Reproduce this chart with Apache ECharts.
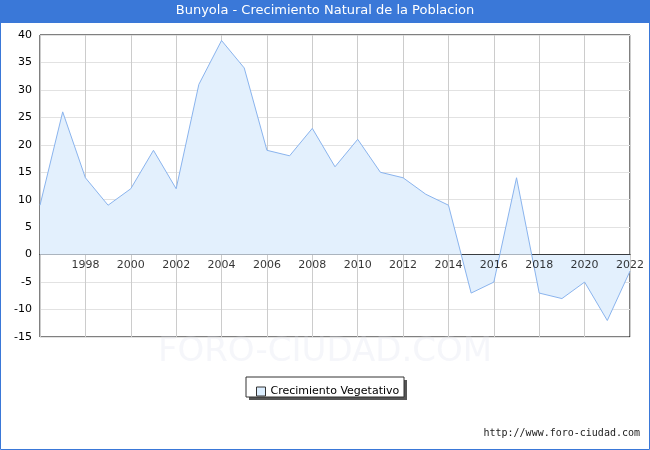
<!DOCTYPE html>
<html><head><meta charset="utf-8">
<script src="https://cdn.jsdelivr.net/npm/echarts@6/dist/echarts.min.js"></script>
<style>html,body{margin:0;padding:0;}#c{width:650px;height:450px;}</style>
</head><body><div id="c"></div>
<script>
const years = [1996,1997,1998,1999,2000,2001,2002,2003,2004,2005,2006,2007,2008,2009,2010,2011,2012,2013,2014,2015,2016,2017,2018,2019,2020,2021,2022];
const values = [9,26,14,9,12,19,12,31,39,34,19,18,23,16,21,15,14,11,9,-7,-5,14,-7,-8,-5,-12,-3];
const tickYears = [1998,2000,2002,2004,2006,2008,2010,2012,2014,2016,2018,2020,2022];
const seriesName = 'Crecimiento Vegetativo';
const titleText = 'Bunyola - Crecimiento Natural de la Poblacion';
const chart = echarts.init(document.getElementById('c'));
chart.setOption({
  animation:false,
  backgroundColor:'#fff',
  graphic:[
    {type:'rect',shape:{x:0.5,y:0.5,width:649,height:449},style:{fill:'none',stroke:'#3a78d8',lineWidth:1}},
    {type:'rect',shape:{x:0,y:0,width:650,height:23},style:{fill:'#3a78d8'}},
    {type:'text',left:'center',top:4,style:{text:titleText,fill:'#fff',font:'13px "DejaVu Sans", sans-serif'}},
    {type:'text',left:'center',top:335,style:{text:'FORO-CIUDAD.COM',fill:'rgba(215,220,235,0.25)',font:'34px "DejaVu Sans", sans-serif'}},
    {type:'text',right:10,top:428,style:{text:'http://www.foro-ciudad.com',fill:'#222',font:'10px "DejaVu Sans Mono", monospace'}},
    {type:'rect',shape:{x:249,y:380,width:158,height:20},style:{fill:'#555'}},
    {type:'rect',shape:{x:246,y:377,width:158,height:20},style:{fill:'#fff',stroke:'#333',lineWidth:1}}
  ],
  legend:{data:[{name:seriesName,icon:'rect'}],left:251,top:381,itemWidth:9,itemHeight:9,
    textStyle:{fontSize:11,fontFamily:'DejaVu Sans',color:'#000'},
    itemStyle:{color:'#dceeff',borderColor:'#333',borderWidth:1}},
  grid:{left:40,right:20,top:35,bottom:113,show:true,borderColor:'#000',borderWidth:1},
  xAxis:{type:'value',min:1996,max:2022,interval:2,
    axisLine:{onZero:true,lineStyle:{color:'#000'}},axisTick:{show:false},
    axisLabel:{show:false},
    splitLine:{show:true,lineStyle:{color:'#ccc'}}},
  yAxis:{type:'value',min:-15,max:40,interval:5,
    axisLine:{show:false},axisTick:{show:false},
    axisLabel:{color:'#000',fontSize:11,fontFamily:'DejaVu Sans'},
    splitLine:{show:true,lineStyle:{color:'#e2e2e2'}}},
  series:[{name:seriesName,type:'line',data:years.map((y,i)=>[y,values[i]]),
    symbol:'none',lineStyle:{color:'#8ab4ee',width:1},
    areaStyle:{color:'#e3f0fd',opacity:1,origin:0},itemStyle:{color:'#dceeff'},z:2},
   {type:'scatter',data:tickYears.map(y=>[y,0]),symbolSize:0,silent:true,z:5,
    label:{show:true,position:'bottom',distance:5,formatter:p=>String(p.value[0]),color:'#000',fontSize:11,fontFamily:'DejaVu Sans'}}]
});
</script></body></html>
